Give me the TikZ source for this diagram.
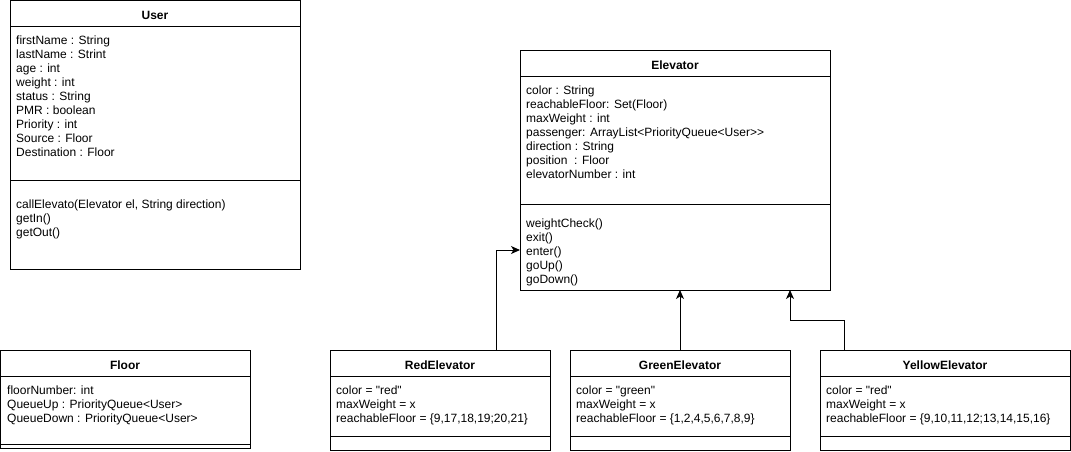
\documentclass[tikz,border=0pt]{standalone}
\usepackage{fontspec}
\setmainfont{Liberation Sans}[Ligatures=TeXOff]
\usetikzlibrary{arrows.meta}
\begin{document}
\begin{tikzpicture}[x=1pt,y=-1pt,
  classbox/.style={draw, line width=1pt, rectangle, anchor=north west, inner sep=0pt, outer sep=0pt},
  divider/.style={line width=1pt},
  title/.style={font=\fontsize{12}{14}\selectfont\bfseries, anchor=base, inner sep=0pt},
  member/.style={font=\fontsize{12}{14}\selectfont, anchor=base west, inner sep=0pt},
  inherit/.style={line width=1pt, line join=miter, -{Stealth[length=9pt,width=8pt,inset=2.5pt]}}]

\useasboundingbox[fill=white] (0,0) rectangle (1071,451);

% ---------- User ----------
\node[classbox, minimum width=290pt, minimum height=269pt] (user) at (10,0.5) {};
\draw[divider] (user.west |- 0,26) -- (user.east |- 0,26);
\draw[divider] (user.west |- 0,180) -- (user.east |- 0,180);
\node[title] (usertitle) at (155,19) {User};
\foreach \t [count=\i from 0] in {firstName : String, lastName : Strint, age : int,
  weight : int, status : String, PMR : boolean, Priority : int, Source : Floor,
  Destination : Floor}
  \node[member] (ua\i) at (16,44+14*\i) {\t};
\foreach \t [count=\i from 0] in {{callElevato(Elevator el, String direction)}, getIn(), getOut()}
  \node[member] (um\i) at (16,208+14*\i) {\t};

% ---------- Elevator ----------
\node[classbox, minimum width=310pt, minimum height=240pt] (elev) at (520,50) {};
\draw[divider] (elev.west |- 0,76) -- (elev.east |- 0,76);
\draw[divider] (elev.west |- 0,204) -- (elev.east |- 0,204);
\node[title] (elevtitle) at (675,69) {Elevator};
\foreach \t [count=\i from 0] in {color : String, reachableFloor: Set(Floor), maxWeight : int,
  passenger: ArrayList<PriorityQueue<User>>, direction : String, position~ : Floor,
  elevatorNumber : int}
  \node[member] (ea\i) at (526,94+14*\i) {\t};
\foreach \t [count=\i from 0] in {weightCheck(), exit(), enter(), goUp(), goDown()}
  \node[member] (em\i) at (526,227+14*\i) {\t};

% ---------- Floor ----------
\node[classbox, minimum width=249.5pt, minimum height=98pt] (floor) at (0.5,350) {};
\draw[divider] (floor.west |- 0,376) -- (floor.east |- 0,376);
\draw[divider] (floor.west |- 0,444) -- (floor.east |- 0,444);
\node[title] (floortitle) at (125,369) {Floor};
\foreach \t [count=\i from 0] in {floorNumber: int, QueueUp : PriorityQueue<User>,
  QueueDown : PriorityQueue<User>}
  \node[member] (fa\i) at (7,394+14*\i) {\t};

% ---------- RedElevator ----------
\node[classbox, minimum width=220pt, minimum height=100pt] (red) at (330,350) {};
\draw[divider] (red.west |- 0,376) -- (red.east |- 0,376);
\draw[divider] (red.west |- 0,436) -- (red.east |- 0,436);
\node[title] (redtitle) at (440,369) {RedElevator};
\foreach \t [count=\i from 0] in {color = "red", maxWeight = x,
  {reachableFloor = \{9,17,18,19;20,21\}}}
  \node[member] (ra\i) at (336,394+14*\i) {\t};

% ---------- GreenElevator ----------
\node[classbox, minimum width=220pt, minimum height=100pt] (green) at (570,350) {};
\draw[divider] (green.west |- 0,376) -- (green.east |- 0,376);
\draw[divider] (green.west |- 0,436) -- (green.east |- 0,436);
\node[title] (greentitle) at (680,369) {GreenElevator};
\foreach \t [count=\i from 0] in {color = "green", maxWeight = x,
  {reachableFloor = \{1,2,4,5,6,7,8,9\}}}
  \node[member] (ga\i) at (576,394+14*\i) {\t};

% ---------- YellowElevator ----------
\node[classbox, minimum width=250pt, minimum height=100pt] (yellow) at (820,350) {};
\draw[divider] (yellow.west |- 0,376) -- (yellow.east |- 0,376);
\draw[divider] (yellow.west |- 0,436) -- (yellow.east |- 0,436);
\node[title] (yellowtitle) at (945,369) {YellowElevator};
\foreach \t [count=\i from 0] in {color = "red", maxWeight = x,
  {reachableFloor = \{9,10,11,12;13,14,15,16\}}}
  \node[member] (ya\i) at (826,394+14*\i) {\t};

% ---------- generalisation arrows ----------
\coordinate (redup) at (496,350);
\coordinate (yellowup) at (844,350);
\draw[inherit] (redup) |- (elev.west |- 0,250);
\draw[inherit] (green.north) -- (green.north |- elev.south);
\draw[inherit] (yellowup) |- (green.east |- 0,320) -- (green.east |- elev.south);

\end{tikzpicture}
\end{document}
